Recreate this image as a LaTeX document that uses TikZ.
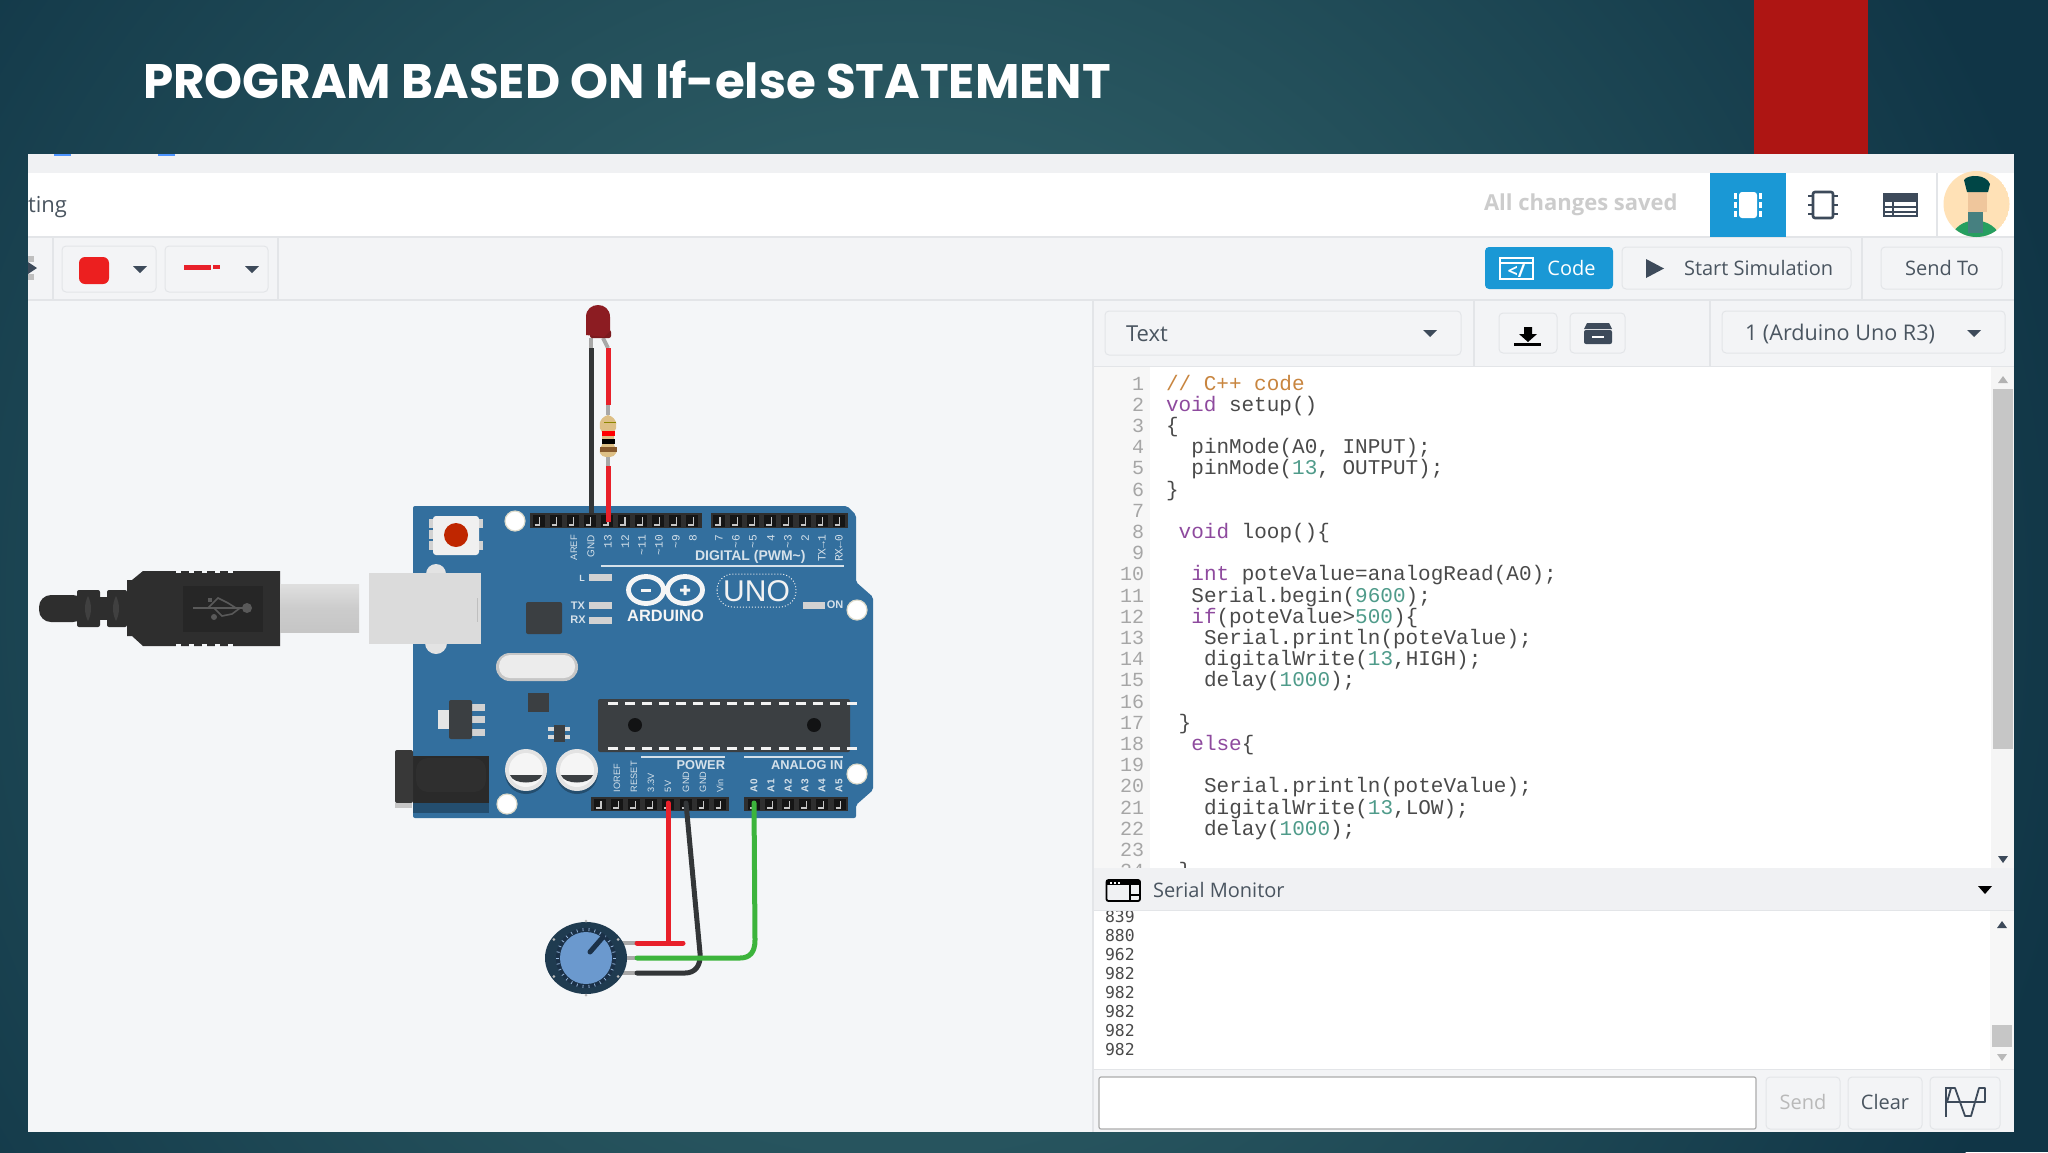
\documentclass[tikz,border=0pt]{standalone}
\usepackage{fontspec}
\usetikzlibrary{calc}
\setmainfont{Open Sans}
\newfontfamily\monof{Liberation Mono}
\newfontfamily\dmonof{DejaVu Sans Mono}
\newfontfamily\labf{Liberation Sans}
\newfontfamily\titlef{Poppins}
\newcommand{\fs}[1]{\fontsize{#1}{#1}\selectfont}
\definecolor{bgIn}{HTML}{3A6E72}
\definecolor{bgOut}{HTML}{103546}
\definecolor{redbar}{HTML}{AE1513}
\definecolor{stripgrey}{HTML}{F0F1F3}
\definecolor{toolbar}{HTML}{F3F4F6}
\definecolor{canvasc}{HTML}{F4F6F8}
\definecolor{sepc}{HTML}{E3E5E8}
\definecolor{blueui}{HTML}{1A98D5}
\definecolor{uitext}{HTML}{4A5560}
\definecolor{icon}{HTML}{3D4A5A}
\definecolor{kwc}{HTML}{8E4A9E}
\definecolor{numc}{HTML}{4F9B8A}
\definecolor{cmc}{HTML}{C8853F}
\definecolor{codec}{HTML}{4A4A4A}
\definecolor{board}{HTML}{336F9E}
\definecolor{silk}{HTML}{D5E1EA}
\definecolor{hdr}{HTML}{2F2F2F}
\definecolor{chipc}{HTML}{3B3F42}
\definecolor{wred}{HTML}{E8202A}
\definecolor{wgreen}{HTML}{3CB43C}
\definecolor{wblack}{HTML}{333638}
\definecolor{leadc}{HTML}{A8A8A8}
\definecolor{potout}{HTML}{1F3B50}
\definecolor{potin}{HTML}{1B3148}
\definecolor{potblue}{HTML}{6B99CE}
\definecolor{ledc}{HTML}{8C1C22}
\definecolor{ledrim}{HTML}{7A1A1E}
\definecolor{resc}{HTML}{DDBF85}
\definecolor{swatch}{HTML}{EC1F1F}
\definecolor{usbb}{HTML}{2E2E2E}
\newcommand{\kw}[1]{\textcolor{kwc}{#1}}
\newcommand{\nm}[1]{\textcolor{numc}{#1}}
\tikzset{
  btn/.style={draw=sepc,fill=toolbar,line width=.5pt,rounded corners=2pt},
  sepline/.style={draw=sepc,line width=.6pt},
  uilabel/.style={inner sep=0,outer sep=0,text=uitext,font=\fs{10}},
  codetxt/.style={inner sep=0,outer sep=0,anchor=base west,text=codec,font=\monof\fs{10.5}},
  numtxt/.style={inner sep=0,outer sep=0,anchor=base east,text=gray!70,font=\monof\fs{10}},
  sertxt/.style={inner sep=0,outer sep=0,anchor=base west,text=codec,font=\dmonof\fs{8.2}},
  silkup/.style={inner sep=0,outer sep=0,rotate=90,anchor=east,text=silk,font=\monof\fs{5.6}},
  silkupw/.style={inner sep=0,outer sep=0,rotate=90,anchor=east,text=silk,font=\labf\fs{5}},
  silkdn/.style={inner sep=0,outer sep=0,rotate=90,anchor=west,text=silk,font=\labf\fs{4.6}},
  silkan/.style={inner sep=0,outer sep=0,rotate=90,anchor=west,text=silk,font=\labf\bfseries\fs{5}},
  silkh/.style={inner sep=0,outer sep=0,text=silk,font=\labf\bfseries\fs{7}},
  hole/.style={fill=white,draw=yellow!20!gray!40,line width=.6pt},
  ledpad/.style={fill=gray!35,draw=none},
  wire/.style={line width=2.5pt,line cap=round,line join=round},
  lead/.style={line width=2pt,leadc},
  caret/.style={fill=icon,draw=none},
}
\newcommand{\caretat}[2]{\fill[caret] (#1-7,#2-3) -- (#1+7,#2-3) -- (#1,#2+4) -- cycle;}
\newcommand{\pinrow}[4]{% first x, count, y top, y bottom
  \foreach \k in {1,...,#2}{
    \pgfmathsetmacro{\px}{#1+(\k-1)*17.1}
    \fill[black!55!hdr] (\px-6,#3+1.5) rectangle (\px+6,#4-1.5);
    \draw[gray!45,line width=.6pt] (\px-4,#4-3) -- (\px+1,#4-3) -- (\px+1,#3+4);
  }}
\newcommand{\codeline}[3]{\node[codetxt] (code#1) at ({1166+#2*12.7},{390+(#1-1)*21.2}) {#3};}
\begin{document}
\begin{tikzpicture}[x=0.5pt,y=-0.5pt]
\useasboundingbox (0,0) rectangle (2048,1152);
% backdrop
\begin{scope}
  \clip (0,0) rectangle (2048,1152);
  \fill[bgOut] (0,0) rectangle (2048,1152);
  \shade[inner color=bgIn,outer color=bgOut] (900,600) circle (1200);
\end{scope}
\fill[redbar] (1754,0) rectangle (1868,155);
\node[inner sep=0,outer sep=0,anchor=base west,text=white,font=\titlef\bfseries\fs{24.2}] (title) at (143,98) {PROGRAM BASED ON If-else STATEMENT};
% panel bands
\fill[stripgrey] (28,154) rectangle (2014,174);
\fill[blue!60!cyan!70] (54,154) rectangle (71,156);
\fill[blue!60!cyan!70] (158,154) rectangle (175,156);
\draw[sepc,line width=.5pt] (28,173) -- (2014,173);
\fill[white] (28,173) rectangle (2014,237);
\fill[toolbar] (28,237) rectangle (2014,300);
\draw[sepline] (28,237) -- (2014,237);
\draw[sepline] (28,300) -- (2014,300);
\fill[canvasc] (28,301) rectangle (1093,1132);
% header
\node[uilabel,anchor=west,font=\fs{11}] (tingtxt) at (28,207) {ting};
\node[inner sep=0,anchor=east,text=gray!40,font=\bfseries\fs{11}] (saved) at (1678,205) {All changes saved};
\fill[blueui] (1710,173) rectangle (1786,237);
\fill[white,rounded corners=1.5pt] (1739,192) rectangle (1757,218);
\foreach \yy in {196,205,214}{
  \fill[white] (1734,\yy-3) rectangle (1737,\yy+3);
  \fill[white] (1759,\yy-3) rectangle (1762,\yy+3);
  \draw[icon,line width=1pt] (1808,\yy) -- (1813,\yy);
  \draw[icon,line width=1pt] (1833,\yy) -- (1838,\yy);
}
\draw[icon,line width=1.3pt,rounded corners=1pt] (1813,192) rectangle (1833,218);
\fill[icon] (1883,194) rectangle (1917,202);
\draw[icon,line width=1pt] (1883.5,194) rectangle (1916.5,216);
\draw[icon,line width=.8pt] (1884,207) -- (1916,207) (1884,212) -- (1916,212) (1893,202) -- (1893,216);
\draw[sepline] (1937,173) -- (1937,237);
% avatar
\begin{scope}
  \clip (1976.5,204) circle (33);
  \fill[orange!25!white!95!yellow] (1976.5,204) circle (33);
  \fill[green!35!teal!70!gray] (1950,240) .. controls (1956,214) and (1994,214) .. (2002,240) -- cycle;
  \fill[orange!45!brown!45!white] (1968,186) rectangle (1987,212);
  \fill[teal!55!black] (1964,180) .. controls (1968,174) and (1986,174) .. (1990,184) -- (1988,192) -- (1967,192) -- cycle;
  \fill[teal!45!gray] (1968,212) rectangle (1983,233);
\end{scope}
% toolbar
\fill[gray!50] (28,256) rectangle (34,262);
\fill[icon] (28,262) -- (37,268) -- (28,274) -- cycle;
\fill[gray!50] (28,274) rectangle (34,280);
\draw[sepline] (53,237) -- (53,300);
\draw[sepline] (278,237) -- (278,300);
\draw[btn] (62,246) rectangle (156,292);
\fill[swatch,rounded corners=3pt] (79,257) rectangle (109,284);
\caretat{140}{269}
\draw[btn] (165,246) rectangle (268,292);
\fill[wred] (184,264.5) rectangle (211,269.5);
\fill[wred] (213,265) rectangle (220,269);
\caretat{252}{269}
\fill[blueui,rounded corners=2pt] (1485,247) rectangle (1613,289);
\draw[white,line width=.9pt] (1500,258) rectangle (1533,279);
\draw[white,line width=.9pt] (1500,263) -- (1533,263);
\node[inner sep=0,text=white,font=\bfseries\fs{9}] (codeicon) at (1516.5,271) {</};
\node[inner sep=0,anchor=west,text=white,font=\fs{10}] (codebtn) at (1547,268) {Code};
\draw[btn] (1622,247) rectangle (1851,289);
\fill[icon] (1646,259) -- (1664,268.5) -- (1646,278) -- cycle;
\node[uilabel,anchor=west] (startsim) at (1684,268) {Start Simulation};
\draw[sepline] (1862,237) -- (1862,300);
\draw[btn] (1881,247) rectangle (2002,289);
\node[uilabel] (sendto) at (1942,268) {Send To};
% right panel top row
\fill[toolbar] (1093,301) rectangle (2014,367);
\draw[sepline] (1093,301) -- (1093,1132);
\draw[btn] (1105,311) rectangle (1461,355);
\node[uilabel,anchor=west,font=\fs{11}] (texttxt) at (1126,333.5) {Text};
\caretat{1430}{333}
\draw[sepline] (1474,301) -- (1474,366);
\draw[btn] (1499,313) rectangle (1557,353);
\fill[black] (1524,327) -- (1532,327) -- (1532,334) -- (1537,334) -- (1528,342) -- (1519,334) -- (1524,334) -- cycle;
\fill[black] (1514,343) rectangle (1541,345.5);
\draw[btn] (1570,313) rectangle (1625,353);
\fill[icon,rounded corners=1pt] (1584,330) rectangle (1612,344);
\fill[icon] (1587,323) -- (1609,323) -- (1612,329) -- (1584,329) -- cycle;
\fill[white] (1592,336) rectangle (1604,338);
\draw[sepline] (1710,301) -- (1710,366);
\draw[btn] (1722,311) rectangle (2005,353);
\node[uilabel,anchor=west,font=\fs{10.8}] (unotxt) at (1745,334) {1 (Arduino Uno R3)};
\caretat{1974}{333}
\draw[sepline] (1093,367) -- (2014,367);
% code panel
\fill[white] (1150,367) rectangle (1991,868);
\fill[gray!6] (1093.5,367) rectangle (1150,868);
\fill[gray!8] (1991,367) rectangle (2014,868);
\fill[gray!45] (1993,389) rectangle (2013,749);
\fill[gray!60] (1998,383) -- (2008,383) -- (2003,376) -- cycle;
\fill[icon] (1998,856) -- (2008,856) -- (2003,863) -- cycle;
\begin{scope}
  \clip (1093,367) rectangle (1991,868);
  \foreach \n in {1,...,24}{
    \node[numtxt] (ln\n) at (1144,{390+(\n-1)*21.2}) {\n};
  }
  \codeline{1}{0}{\textcolor{cmc}{// C++ code}}
  \codeline{2}{0}{\kw{void} setup()}
  \codeline{3}{0}{\{}
  \codeline{4}{2}{pinMode(A0, INPUT);}
  \codeline{5}{2}{pinMode(\nm{13}, OUTPUT);}
  \codeline{6}{0}{\}}
  \codeline{8}{1}{\kw{void} loop()\{}
  \codeline{10}{2}{\kw{int} poteValue=analogRead(A0);}
  \codeline{11}{2}{Serial.begin(\nm{9600});}
  \codeline{12}{2}{\kw{if}(poteValue>\nm{500})\{}
  \codeline{13}{3}{Serial.println(poteValue);}
  \codeline{14}{3}{digitalWrite(\nm{13},HIGH);}
  \codeline{15}{3}{delay(\nm{1000});}
  \codeline{17}{1}{\}}
  \codeline{18}{2}{\kw{else}\{}
  \codeline{20}{3}{Serial.println(poteValue);}
  \codeline{21}{3}{digitalWrite(\nm{13},LOW);}
  \codeline{22}{3}{delay(\nm{1000});}
  \codeline{24}{1}{\}}
\end{scope}
% serial monitor
\fill[stripgrey] (1093.5,868) rectangle (2014,910);
\draw[sepline] (1093,910.5) -- (2014,910.5);
\draw[black,line width=.9pt,rounded corners=1pt] (1106.5,880) rectangle (1140,901);
\fill[black] (1106,880) rectangle (1140,885);
\foreach \dd in {1110,1114,1118}{\fill[white] (\dd,881.5) rectangle (\dd+2,883.5);}
\draw[black,line width=.7pt] (1130,885) -- (1130,901) (1130,895) -- (1140,895);
\node[uilabel,anchor=west] (sertitle) at (1153,890) {Serial Monitor};
\fill[black] (1978,886) -- (1992,886) -- (1985,894) -- cycle;
\fill[white] (1093.5,911) rectangle (1990,1069);
\fill[gray!6] (1990,911) rectangle (2014,1069);
\fill[gray!45] (1992,1025) rectangle (2012,1047);
\fill[icon] (1997,928) -- (2007,928) -- (2002,921) -- cycle;
\fill[gray!55] (1997,1054) -- (2007,1054) -- (2002,1061) -- cycle;
\begin{scope}
  \clip (1093.5,911) rectangle (1990,1069);
  \foreach \v [count=\i from 0] in {839,880,962,982,982,982,982,982}{
    \node[sertxt] (ser\i) at (1105,{922+\i*19}) {\v};
  }
\end{scope}
\fill[toolbar] (1093.5,1069) rectangle (2014,1132);
\draw[sepline] (1093,1069.5) -- (2014,1069.5);
\draw[gray!65,fill=white,line width=.6pt,rounded corners=1pt] (1099,1077) rectangle (1756,1129);
\draw[btn] (1766,1077) rectangle (1840,1129);
\node[uilabel,text=gray!55] (sendbtn) at (1803,1102) {Send};
\draw[btn] (1848,1077) rectangle (1922,1129);
\node[uilabel] (clearbtn) at (1885,1102) {Clear};
\draw[btn] (1930,1077) rectangle (2000,1129);
\draw[icon,line width=1.2pt] (1946,1087) -- (1946,1117);
\draw[icon,line width=.9pt,line join=round] (1947,1088) -- (1955,1088) -- (1960,1102) -- (1965,1116) -- (1971,1116) -- (1975,1102) -- (1979,1088) -- (1985,1088) -- (1985,1102) -- (1947,1102) -- (1951,1088);
% ---------- USB cable
\fill[usbb,rounded corners=6pt] (39,595) rectangle (85,622);
\fill[usbb,rounded corners=1pt] (77,590) rectangle (100,627);
\fill[usbb] (100,597) rectangle (107,620);
\fill[usbb,rounded corners=1pt] (107,590) rectangle (127,627);
\fill[black!75] (88,596) .. controls (84,604) and (84,613) .. (88,621) .. controls (92,613) and (92,604) .. (88,596) -- cycle;
\fill[black!75] (116,596) .. controls (112,604) and (112,613) .. (116,621) .. controls (120,613) and (120,604) .. (116,596) -- cycle;
\fill[usbb] (127,580) -- (132,580) -- (143,571) -- (280,571) -- (280,646) -- (143,646) -- (132,636) -- (127,636) -- cycle;
\fill[black!85] (183,586) rectangle (263,632);
\foreach \xx in {176,189,202,215,228}{
  \fill[canvasc] (\xx,570) rectangle (\xx+5,573);
  \fill[canvasc] (\xx,644) rectangle (\xx+5,647);
}
\draw[black!65,line width=.8pt] (193,608) -- (246,608) (208,608) -- (218,598) -- (228,603) -- (236,608) (214,608) -- (222,616) -- (232,614) -- (240,608);
\fill[black!65] (247,608) circle (5);
\fill[black!65] (208,598) rectangle (212,602);
\fill[black!65] (214,617) circle (3);
\shade[top color=gray!25,bottom color=gray!45,middle color=gray!40] (280,584) rectangle (359,632);
% ---------- board
\fill[board,rounded corners=1pt] (413,506) -- (847,506) -- (856,515) -- (856,582) -- (873,597) -- (873,790) -- (856,805) -- (856,818) -- (413,818) -- cycle;
\fill[gray!22] (436,574) circle (10);
\fill[gray!22] (436,643) circle (11);
\fill[gray!28] (369,573) rectangle (481,644);
\draw[gray!50,line width=.5pt] (477,598) -- (477,622);
% reset
\foreach \yy in {519,530,541}{\fill[gray!35] (429,\yy) rectangle (434,\yy+9);}
\foreach \yy in {519,541}{\fill[gray!35] (478,\yy) rectangle (483,\yy+9);}
\fill[gray!12,rounded corners=1.5pt] (433,516) rectangle (479,555);
\fill[red!60!orange!75!black] (456,535) circle (12);
% holes
\draw[hole] (515,521) circle (10);
\draw[hole] (857,610) circle (10);
\draw[hole] (857,774) circle (10);
\draw[hole] (507,804) circle (10);
% headers
\fill[hdr] (530,513) rectangle (702,528);
\fill[hdr] (711,513) rectangle (848,528);
\fill[hdr] (591,797) rectangle (729,811);
\fill[hdr] (744,797) rectangle (848,811);
\pinrow{538.5}{10}{513}{528}
\pinrow{719}{8}{513}{528}
\pinrow{600}{8}{797}{811}
\pinrow{754}{6}{797}{811}
% silk top
\node[silkupw] (lAREF) at (574,535) {\fontsize{4.7}{4.7}\selectfont AREF};
\node[silkupw] (lGND) at (591,535) {GND};
\foreach \t/\xx in {13/608,12/625,\textasciitilde 11/642,\textasciitilde 10/659,\textasciitilde 9/676,8/693,7/719,\textasciitilde 6/736,\textasciitilde 5/753,4/771,\textasciitilde 3/788,2/805,TX→1/822,RX←0/839}{
  \node[silkup] at (\xx,535) {\t};
}
\node[silkh,anchor=west] (digital) at (695,557) {DIGITAL (PWM\textasciitilde)};
\draw[silk,line width=.7pt] (601,566) -- (844,566);
% leds
\foreach \yy in {574,602,617}{\fill[ledpad] (589,\yy) rectangle (612,\yy+7);}
\fill[ledpad] (803,602) rectangle (825,609);
\node[silkh,font=\labf\bfseries\fs{4.5}] (lL) at (582,578) {L};
\node[silkh,font=\labf\bfseries\fs{5.5}] (lTX) at (578,606) {TX};
\node[silkh,font=\labf\bfseries\fs{5.5}] (lRX) at (578,620) {RX};
\node[silkh,font=\labf\bfseries\fs{5.5}] (lON) at (835,605) {ON};
% logo
\draw[gray!8,line width=2.4pt] (646,590) ellipse (17.5 and 13.5) (685,590) ellipse (17.5 and 13.5);
\fill[gray!8] (641,588.5) rectangle (651,591.5);
\fill[gray!8] (680,588.5) rectangle (690,591.5) (683.5,585) rectangle (686.5,595);
\node[inner sep=0,text=gray!8,font=\labf\bfseries\fs{8.2}] (ardtxt) at (665.5,616) {ARDUINO};
\draw[gray!15,densely dotted,line width=.5pt,rounded corners=8pt] (717,574) rectangle (796,607);
\node[inner sep=0,text=gray!10,font=\labf\fs{15}] (unotxt2) at (756.5,591) {UNO};
% chips
\fill[chipc,rounded corners=1pt] (526,602) rectangle (562,634);
\fill[gray!45,rounded corners=6.9pt] (496,653) rectangle (578,681);
\fill[gray!15,rounded corners=5.5pt] (499,655) rectangle (575,678);
\fill[chipc] (528,693) rectangle (549,712);
\fill[gray!20] (438,710) rectangle (450,729);
\foreach \yy in {704,716,729}{\fill[gray!35] (472,\yy) rectangle (485,\yy+7);}
\fill[chipc,rounded corners=1pt] (449,700) rectangle (472,739);
\foreach \yy in {727,735}{\fill[gray!30] (548,\yy) rectangle (570,\yy+4);}
\fill[chipc] (554,725) rectangle (565,742);
% DIP
\fill[chipc,rounded corners=1pt] (598,699) rectangle (850,752);
\foreach \k in {0,...,14}{
  \pgfmathsetmacro{\dx}{612.5+\k*17.1}
  \fill[gray!10] (\dx-5,701.5) rectangle (\dx+5,704.5);
  \fill[gray!10] (\dx-5,746.5) rectangle (\dx+5,749.5);
}
\fill[black!70!chipc] (635,725) circle (7);
\fill[black!70!chipc] (814,725) circle (7);
% capacitors
\foreach \xx in {526,577}{
  \fill[board!70!black] (\xx,773) circle (21);
  \fill[gray!22] (\xx,770) circle (21);
  \fill[gray!8] (\xx,770) circle (17);
  \fill[chipc] (\xx-16,775) -- (\xx+16,775) .. controls (\xx+13,785) and (\xx-13,785) .. (\xx-16,775) -- cycle;
}
% jack
\fill[board!70!black] (413,790) rectangle (489,813);
\fill[hdr!90!black] (413,756) rectangle (489,803);
\fill[black!78,rounded corners=1pt] (395,750) rectangle (413,803);
\fill[gray!45] (395,803) rectangle (412,808);
\fill[hdr,rounded corners=6pt] (416,758) rectangle (486,792);
% silk bottom
\draw[silk,line width=.7pt] (641,757) -- (725,757) (744,757) -- (843,757);
\node[silkh,anchor=east,font=\labf\bfseries\fs{6.4}] (power) at (725,765) {POWER};
\node[silkh,anchor=east,font=\labf\bfseries\fs{6.4}] (analog) at (843,765) {ANALOG IN};
\foreach \t/\xx in {IOREF/617,RESET/634,3.3V/651,5V/668,GND/686,GND/703,Vin/720}{
  \node[silkdn] at (\xx,792) {\t};
}
\foreach \t/\xx in {A0/754,A1/771,A2/788,A3/805,A4/822,A5/839}{
  \node[silkan] at (\xx,792) {\t};
}
% ---------- named pins
\coordinate (pinGND) at (591,513);
\coordinate (pin13) at (608,522);
\coordinate (pin5V) at (668,803);
\coordinate (pinGND2) at (686,803);
\coordinate (pinA0) at (754,803);
% ---------- LED + resistor
\coordinate (ledK) at (591,338);
\coordinate (ledA) at (603,338);
\coordinate (resT) at (608,415);
\coordinate (resB) at (608,457);
\draw[lead] (ledK) -- (591,348);
\draw[lead] (ledA) -- (608,348);
\draw[wire,wblack,line cap=butt] (591,348) -- (pinGND);
\draw[wire,wred,line cap=butt] (608,348) -- (608,405);
\draw[lead] (608,405) -- (resT);
\draw[lead] (resB) -- (608,466);
\draw[wire,wred,line cap=butt] (608,466) -- (pin13);
\fill[ledrim,rounded corners=1pt] (590,330) rectangle (611,338);
\fill[ledc] (586,335) -- (586,317) .. controls (586,301) and (610,301) .. (610,317) -- (610,331) -- (604,337) -- cycle;
\fill[resc] (608,415) .. controls (598,418) and (598,428) .. (602,432) -- (602,445) .. controls (598,450) and (598,457) .. (608,457) .. controls (618,457) and (618,450) .. (614,445) -- (614,432) .. controls (618,428) and (618,418) .. (608,415) -- cycle;
\fill[olive] (604,421.5) rectangle (616,423);
\fill[red] (602,431) rectangle (615,436);
\fill[black] (602,439) rectangle (615,444);
\fill[brown!70!black] (600,447) rectangle (617,452);
% ---------- pot + wires
\coordinate (potR) at (637,943);
\coordinate (potG) at (637,958);
\coordinate (potB) at (637,973);
\draw[lead] (622,943) -- (potR);
\draw[lead] (622,958) -- (potG);
\draw[lead] (622,973) -- (potB);
\fill[potout] (586,958) ellipse (41 and 36);
\fill[potin] (586,958) circle (30);
\foreach \a in {0,12,...,348}{\draw[potblue!70,line width=.4pt] ($(586,958)+(\a:27)$) -- ($(586,958)+(\a:30)$);}
\fill[potblue] (586,958) circle (26);
\foreach \a in {30,90,150,210,270,330}{\fill[gray!55] ($(586,958)+(\a:37)$) circle (1.5);}
\draw[potin,line width=2.5pt,line cap=round] (590,952) -- (603,937);
\draw[wire,wred] (potR) -- (683,943);
\draw[wire,wred] (pin5V) -- (668,943);
\draw[wire,wblack] (pinGND2) -- (700,953) .. controls (701,966) and (695,973) .. (685,973) -- (potB);
\draw[wire,wgreen] (pinA0) -- (755,940) .. controls (755,952) and (750,958) .. (740,958) -- (potG);
\end{tikzpicture}
\end{document}
